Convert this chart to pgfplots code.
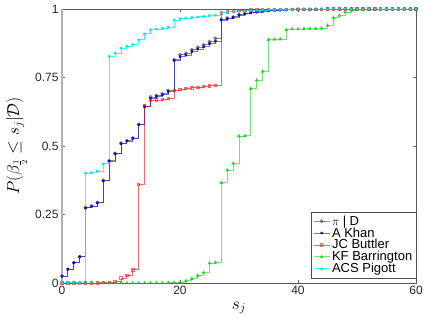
\documentclass[border=0pt]{standalone}
\usepackage{pgfplots}
\pgfplotsset{compat=1.18}
\usepackage{pgfplotstable}
\usepackage{fontspec}
\setmainfont{Liberation Sans}
\definecolor{mblue}{rgb}{0,0,1}
\definecolor{mred}{rgb}{1,0,0}
\definecolor{mgreen}{rgb}{0,1,0}
\definecolor{mcyan}{rgb}{0,1,1}
\pgfplotstableread{
s pd khan buttler barr pigott
0 0.025 0.025 0.000 0.000 0.002
1 0.050 0.050 0.000 0.000 0.002
2 0.074 0.074 0.000 0.000 0.002
3 0.096 0.096 0.000 0.000 0.002
4 0.275 0.274 0.000 0.000 0.401
5 0.281 0.280 0.000 0.000 0.403
6 0.294 0.293 0.001 0.000 0.408
7 0.374 0.373 0.002 0.000 0.435
8 0.446 0.445 0.003 0.000 0.827
9 0.473 0.472 0.006 0.000 0.839
10 0.510 0.509 0.018 0.000 0.857
11 0.519 0.518 0.028 0.000 0.864
12 0.529 0.528 0.048 0.000 0.870
13 0.579 0.578 0.360 0.000 0.888
14 0.645 0.643 0.646 0.000 0.909
15 0.679 0.675 0.666 0.000 0.924
16 0.684 0.681 0.668 0.000 0.927
17 0.690 0.687 0.670 0.000 0.930
18 0.702 0.699 0.673 0.001 0.934
19 0.815 0.812 0.703 0.001 0.960
20 0.833 0.826 0.707 0.002 0.965
21 0.838 0.832 0.710 0.008 0.967
22 0.851 0.845 0.712 0.016 0.969
23 0.860 0.854 0.714 0.027 0.971
24 0.869 0.862 0.717 0.038 0.973
25 0.881 0.874 0.720 0.072 0.976
26 0.893 0.882 0.722 0.075 0.977
27 0.962 0.960 0.986 0.366 0.988
28 0.967 0.965 0.990 0.412 0.990
29 0.971 0.969 0.992 0.436 0.991
30 0.980 0.978 0.994 0.536 0.992
31 0.984 0.982 0.995 0.537 0.993
32 0.988 0.986 0.996 0.709 0.994
33 0.990 0.989 0.997 0.740 0.995
34 0.993 0.992 0.997 0.772 0.996
35 0.995 0.994 0.998 0.888 0.997
36 0.996 0.995 0.998 0.889 0.997
37 0.997 0.996 0.998 0.890 0.998
38 0.998 0.997 0.999 0.924 0.998
39 0.998 0.998 0.999 0.927 0.998
40 0.999 0.999 0.999 0.927 0.999
41 0.999 0.999 0.999 0.928 0.999
42 0.999 0.999 0.999 0.928 0.999
43 0.999 0.999 0.999 0.928 0.999
44 0.999 0.999 0.999 0.929 0.999
45 1.000 1.000 1.000 0.940 1.000
46 1.000 1.000 1.000 0.968 1.000
47 1.000 1.000 1.000 0.976 1.000
48 1.000 1.000 1.000 0.988 1.000
49 1.000 1.000 1.000 0.995 1.000
50 1.000 1.000 1.000 0.998 1.000
51 1.000 1.000 1.000 0.999 1.000
52 1.000 1.000 1.000 0.999 1.000
53 1.000 1.000 1.000 1.000 1.000
54 1.000 1.000 1.000 1.000 1.000
55 1.000 1.000 1.000 1.000 1.000
56 1.000 1.000 1.000 1.000 1.000
57 1.000 1.000 1.000 1.000 1.000
58 1.000 1.000 1.000 1.000 1.000
59 1.000 1.000 1.000 1.000 1.000
60 1.000 1.000 1.000 1.000 1.000
}\data
\begin{document}
\begin{tikzpicture}
\begin{axis}[
  width=354pt, height=274pt, scale only axis,
  xmin=0, xmax=60, ymin=0, ymax=1,
  xtick={0,20,40,60}, ytick={0,0.25,0.5,0.75,1},
  yticklabels={0,0.25,0.5,0.75,1},
  /pgf/number format/assume math mode=true,
  tick label style={font=\fontsize{12}{14}\selectfont, text=black!85},
  tick align=inside, major tick length=3pt,
  tick style={black!60},
  axis line style={draw=black!65, line width=0.6pt},
  xlabel={$s_j$}, ylabel={$P(\beta_{\frac{1}{2}}\leq s_j|\mathcal{D})$},
  label style={font=\fontsize{17}{20}\selectfont},
  xlabel style={yshift=0pt},
  ylabel style={yshift=1pt},
  legend style={at={(1,0.018)}, anchor=south east, font=\fontsize{13}{14}\selectfont,
    draw=black!70, inner sep=1.5pt, row sep=-3pt, line width=0.5pt},
  legend cell align=left,
  legend image code/.code={\draw[mark repeat=2,mark phase=2] plot coordinates {(0cm,0cm) (0.28cm,0cm) (0.56cm,0cm)};},
  every axis plot/.append style={const plot, line width=0.9pt, mark size=1.4pt},
  clip=false,
]
\addplot[draw=black, draw opacity=0.45, mark=o, mark options={draw=black!70, draw opacity=0.8}] table[x=s,y=pd]{\data};
\addlegendentry{$\pi$ | D}
\addplot[draw=mblue, draw opacity=0.55, mark=x, mark options={draw=mblue!80!black, draw opacity=0.9, line width=1.1pt}] table[x=s,y=khan]{\data};
\addlegendentry{A Khan}
\addplot[draw=mred, draw opacity=0.6, mark=square, mark options={draw=mred, draw opacity=0.6, line width=0.8pt, mark size=1.2pt}] table[x=s,y=buttler]{\data};
\addlegendentry{JC Buttler}
\addplot[draw=mgreen!80!black, draw opacity=0.55, mark=triangle*, mark options={draw=mgreen!80!black, fill=mgreen, draw opacity=0.7, fill opacity=0.6}] table[x=s,y=barr]{\data};
\addlegendentry{KF Barrington}
\addplot[draw=mcyan, draw opacity=0.8, mark=asterisk, mark options={draw=mcyan!90!black, draw opacity=0.9}] table[x=s,y=pigott]{\data};
\addlegendentry{ACS Pigott}
\draw[black!30, line width=1.6pt] (rel axis cs:0,0) -- (rel axis cs:0,1);
\end{axis}
\pgfresetboundingbox
\path ([shift={(-62pt,-44pt)}]current axis.south west) rectangle ([shift={(9pt,9pt)}]current axis.north east);
\end{tikzpicture}
\end{document}
